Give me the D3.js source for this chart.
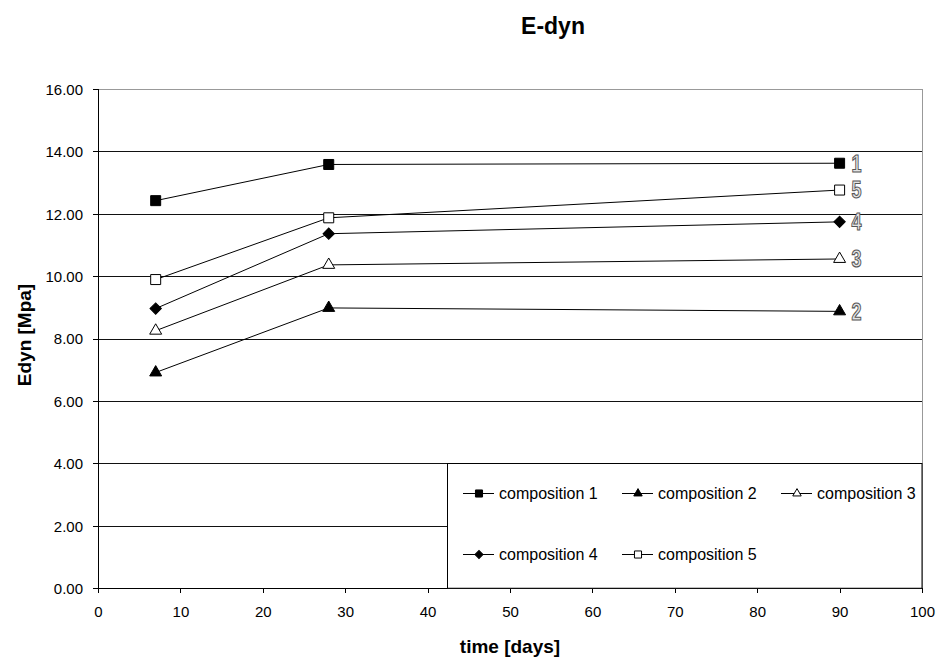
<!DOCTYPE html>
<html>
<head>
  <meta charset="utf-8">
  <title>E-dyn</title>
  <script src="https://d3js.org/d3.v7.min.js"></script>
  <style>
    body { margin: 0; background: #fff; }
    text { font-family: Arial, "Liberation Sans", sans-serif; fill: #000; }
    .tick text { font-size: 15px; }
    .axis path, .axis line { stroke: #000; shape-rendering: crispEdges; }
  </style>
</head>
<body>
<div id="chart"></div>
<script>
  // Values.
  const days = [7, 28, 90];
  const comp1 = [12.42, 13.58, 13.62];
  const comp2 = [6.91, 8.98, 8.87];
  const comp3 = [8.25, 10.36, 10.55];
  const comp4 = [8.96, 11.36, 11.74];
  const comp5 = [9.89, 11.87, 12.76];
  const seriesNames = ["composition 1", "composition 2", "composition 3", "composition 4", "composition 5"];
  const curveLabels = ["1", "2", "3", "4", "5"];
  const yTicks = [0, 2, 4, 6, 8, 10, 12, 14, 16];
  const xTicks = [0, 10, 20, 30, 40, 50, 60, 70, 80, 90, 100];

  const W = 940, H = 663;
  const svg = d3.select("#chart").append("svg")
    .attr("width", W)
    .attr("height", H);

  const x = d3.scaleLinear().domain([0, 100]).range([98, 922]);
  const y = d3.scaleLinear().domain([0, 16]).range([588, 89]);

  // marker styles per series
  const markers = [
    {type: d3.symbolSquare, size: 100, rot: 0, fill: "#000"},
    {type: d3.symbolTriangle, size: 62, rot: 0, fill: "#000"},
    {type: d3.symbolTriangle, size: 62, rot: 0, fill: "#fff"},
    {type: d3.symbolSquare, size: 64, rot: 45, fill: "#000"},
    {type: d3.symbolSquare, size: 100, rot: 0, fill: "#fff"}
  ];
  const allSeries = [comp1, comp2, comp3, comp4, comp5].map((vals, i) => ({
    name: seriesNames[i],
    label: curveLabels[i],
    marker: markers[i],
    points: vals.map((v, j) => ({day: days[j], value: v}))
  }));

  // plot border (top and right, gray)
  svg.append("path")
    .attr("d", `M${x(0)},${y(16)}H${x(100)}V${y(0)}`)
    .attr("fill", "none")
    .attr("stroke", "#999")
    .attr("shape-rendering", "crispEdges");

  // horizontal gridlines
  svg.append("g").selectAll("line")
    .data(yTicks.filter(d => d > 0 && d < 16))
    .join("line")
    .attr("x1", x(0)).attr("x2", x(100))
    .attr("y1", d => Math.round(y(d)) + 0.5).attr("y2", d => Math.round(y(d)) + 0.5)
    .attr("stroke", "#111")
    .attr("stroke-width", 1);

  // axes
  svg.append("g")
    .attr("class", "axis")
    .attr("transform", `translate(${x(0)},0)`)
    .call(d3.axisLeft(y).tickValues(yTicks).tickFormat(d3.format(".2f")).tickSize(5).tickPadding(10))
    .call(g => g.selectAll(".tick text").attr("dy", "0.36em"));

  svg.append("g")
    .attr("class", "axis")
    .attr("transform", `translate(0,${y(0)})`)
    .call(d3.axisBottom(x).tickValues(xTicks).tickFormat(d3.format("d")).tickSize(5).tickPadding(13));

  // series lines
  const line = d3.line().x(d => x(d.day)).y(d => y(d.value));
  svg.append("g").selectAll("path")
    .data(allSeries)
    .join("path")
    .attr("d", d => line(d.points))
    .attr("fill", "none")
    .attr("stroke", "#000")
    .attr("stroke-width", 1);

  // series markers
  allSeries.forEach(s => {
    svg.append("g").selectAll("path")
      .data(s.points)
      .join("path")
      .attr("transform", d => `translate(${x(d.day)},${y(d.value)}) rotate(${s.marker.rot})`)
      .attr("d", d3.symbol().type(s.marker.type).size(s.marker.size))
      .attr("fill", s.marker.fill)
      .attr("stroke", "#000")
      .attr("stroke-width", 1);
  });

  // outlined curve numbers at the right end (narrow digits)
  svg.append("g").selectAll("text")
    .data(allSeries)
    .join("text")
    .attr("transform", d => `translate(${x(d.points[2].day) + 12},${y(d.points[2].value)}) scale(0.78,1)`)
    .attr("dy", "0.36em")
    .style("font-weight", "bold")
    .style("font-size", "23px")
    .style("fill", "#e4e4e4")
    .style("stroke", "#555")
    .style("stroke-width", 1.1)
    .text(d => d.label);

  // legend box
  const lg = svg.append("g");
  lg.append("rect")
    .attr("x", 447.5).attr("y", Math.round(y(4)) + 0.5)
    .attr("width", x(100) - 447.5).attr("height", y(0) - y(4))
    .attr("fill", "#fff")
    .attr("stroke", "#000");

  const legendPos = [[463, 493], [622, 493], [781, 493], [463, 554], [622, 554]];
  allSeries.forEach((s, i) => {
    const [lx, ly] = legendPos[i];
    const item = lg.append("g").attr("transform", `translate(${lx},${ly})`);
    item.append("line")
      .attr("x1", 0).attr("x2", 31).attr("y1", 0.5).attr("y2", 0.5)
      .attr("stroke", "#000");
    item.append("path")
      .attr("transform", `translate(16,0.5) rotate(${s.marker.rot})`)
      .attr("d", d3.symbol().type(s.marker.type).size(s.marker.size * 0.5))
      .attr("fill", s.marker.fill)
      .attr("stroke", "#000");
    item.append("text")
      .attr("x", 36).attr("y", 0).attr("dy", "0.36em")
      .style("font-size", "16px")
      .text(s.name);
  });

  // titles
  svg.append("text")
    .attr("x", 553).attr("y", 34)
    .attr("text-anchor", "middle")
    .style("font-weight", "bold")
    .style("font-size", "23px")
    .text("E-dyn");

  svg.append("text")
    .attr("x", 510).attr("y", 653)
    .attr("text-anchor", "middle")
    .style("font-weight", "bold")
    .style("font-size", "19px")
    .text("time [days]");

  svg.append("text")
    .attr("transform", "translate(31,335) rotate(-90)")
    .attr("text-anchor", "middle")
    .style("font-weight", "bold")
    .style("font-size", "19px")
    .text("Edyn [Mpa]");
</script>
</body>
</html>
